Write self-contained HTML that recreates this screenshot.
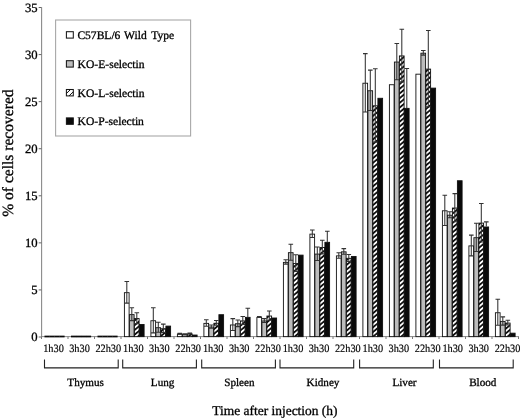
<!DOCTYPE html>
<html lang="en"><head><meta charset="utf-8"><title>Cells recovered chart</title>
<style>
html,body{margin:0;padding:0;background:#fff;}
body{width:520px;height:419px;position:relative;overflow:hidden;font-family:'Liberation Serif',serif;}
svg text{text-rendering:geometricPrecision;stroke:#000;stroke-width:0.3px;}
</style></head><body>
<svg width="520" height="419" viewBox="0 0 520 419" style="position:absolute;left:0;top:0;will-change:transform">
<defs><filter id="sf" x="0" y="0" width="520" height="419" filterUnits="userSpaceOnUse" color-interpolation-filters="sRGB"><feGaussianBlur stdDeviation="0.35"/></filter><pattern id="h" width="3.6" height="3.6" patternUnits="userSpaceOnUse" patternTransform="rotate(-40)"><rect width="3.6" height="3.6" fill="#fff"/><rect width="3.6" height="1.8" fill="#111"/></pattern></defs><g filter="url(#sf)">
<rect x="55.6" y="20" width="135" height="116" fill="#fff" stroke="#a8a8a8" stroke-width="1.1"/>
<path d="M41.60 7.2V337.00" stroke="#8a8a8a" stroke-width="1.1" fill="none"/>
<path d="M41.00 336.60H518.8" stroke="#8a8a8a" stroke-width="1" fill="none"/>
<rect x="124.40" y="292.68" width="4.70" height="43.97" fill="#fff" stroke="#111" stroke-width="0.9"/>
<rect x="129.40" y="314.62" width="4.70" height="22.03" fill="#bcbcbc" stroke="#111" stroke-width="0.9"/>
<rect x="134.40" y="318.57" width="4.70" height="18.08" fill="url(#h)" stroke="#111" stroke-width="0.9"/>
<rect x="139.40" y="324.50" width="4.70" height="12.15" fill="#0a0a0a" stroke="#111" stroke-width="0.9"/>
<path d="M126.80 281.46V303.11M124.50 281.46H129.10M124.50 303.11H129.10" stroke="#333" stroke-width="1.05" fill="none"/>
<path d="M131.80 307.82V320.62M129.50 307.82H134.10M129.50 320.62H134.10" stroke="#333" stroke-width="1.05" fill="none"/>
<path d="M136.80 312.71V323.63M134.50 312.71H139.10M134.50 323.63H139.10" stroke="#333" stroke-width="1.05" fill="none"/>
<rect x="150.90" y="320.74" width="4.70" height="15.91" fill="#fff" stroke="#111" stroke-width="0.9"/>
<rect x="155.90" y="327.70" width="4.70" height="8.95" fill="#bcbcbc" stroke="#111" stroke-width="0.9"/>
<rect x="160.90" y="328.74" width="4.70" height="7.91" fill="url(#h)" stroke="#111" stroke-width="0.9"/>
<rect x="165.90" y="326.10" width="4.70" height="10.55" fill="#0a0a0a" stroke="#111" stroke-width="0.9"/>
<path d="M153.30 307.82V332.86M151.00 307.82H155.60M151.00 332.86H155.60" stroke="#333" stroke-width="1.05" fill="none"/>
<path d="M158.30 322.31V332.29M156.00 322.31H160.60M156.00 332.29H160.60" stroke="#333" stroke-width="1.05" fill="none"/>
<path d="M163.30 324.10V332.58M161.00 324.10H165.60M161.00 332.58H165.60" stroke="#333" stroke-width="1.05" fill="none"/>
<rect x="177.40" y="334.11" width="4.70" height="2.54" fill="#fff" stroke="#111" stroke-width="0.9"/>
<rect x="182.40" y="334.58" width="4.70" height="2.07" fill="#bcbcbc" stroke="#111" stroke-width="0.9"/>
<rect x="187.40" y="333.92" width="4.70" height="2.73" fill="url(#h)" stroke="#111" stroke-width="0.9"/>
<rect x="192.40" y="335.05" width="4.70" height="1.60" fill="#0a0a0a" stroke="#111" stroke-width="0.9"/>
<path d="M179.80 333.23V334.18M177.50 333.23H182.10M177.50 334.18H182.10" stroke="#333" stroke-width="1.05" fill="none"/>
<path d="M184.80 333.71V334.65M182.50 333.71H187.10M182.50 334.65H187.10" stroke="#333" stroke-width="1.05" fill="none"/>
<path d="M189.80 333.05V333.99M187.50 333.05H192.10M187.50 333.99H192.10" stroke="#333" stroke-width="1.05" fill="none"/>
<rect x="203.90" y="323.37" width="4.70" height="13.28" fill="#fff" stroke="#111" stroke-width="0.9"/>
<rect x="208.90" y="327.04" width="4.70" height="9.61" fill="#bcbcbc" stroke="#111" stroke-width="0.9"/>
<rect x="213.90" y="323.28" width="4.70" height="13.37" fill="url(#h)" stroke="#111" stroke-width="0.9"/>
<rect x="218.90" y="314.71" width="4.70" height="21.94" fill="#0a0a0a" stroke="#111" stroke-width="0.9"/>
<path d="M206.30 319.68V326.27M204.00 319.68H208.60M204.00 326.27H208.60" stroke="#333" stroke-width="1.05" fill="none"/>
<path d="M211.30 324.95V328.34M209.00 324.95H213.60M209.00 328.34H213.60" stroke="#333" stroke-width="1.05" fill="none"/>
<path d="M216.30 320.53V325.23M214.00 320.53H218.60M214.00 325.23H218.60" stroke="#333" stroke-width="1.05" fill="none"/>
<rect x="230.40" y="324.97" width="4.70" height="11.68" fill="#fff" stroke="#111" stroke-width="0.9"/>
<rect x="235.40" y="323.75" width="4.70" height="12.90" fill="#bcbcbc" stroke="#111" stroke-width="0.9"/>
<rect x="240.40" y="320.93" width="4.70" height="15.72" fill="url(#h)" stroke="#111" stroke-width="0.9"/>
<rect x="245.40" y="317.35" width="4.70" height="19.30" fill="#0a0a0a" stroke="#111" stroke-width="0.9"/>
<path d="M232.80 318.64V330.50M230.50 318.64H235.10M230.50 330.50H235.10" stroke="#333" stroke-width="1.05" fill="none"/>
<path d="M237.80 320.05V326.64M235.50 320.05H240.10M235.50 326.64H240.10" stroke="#333" stroke-width="1.05" fill="none"/>
<path d="M242.80 316.57V324.48M240.50 316.57H245.10M240.50 324.48H245.10" stroke="#333" stroke-width="1.05" fill="none"/>
<path d="M247.80 308.29V316.95M245.50 308.29H250.10" stroke="#333" stroke-width="1.05" fill="none"/>
<rect x="256.90" y="317.35" width="4.70" height="19.30" fill="#fff" stroke="#111" stroke-width="0.9"/>
<rect x="261.90" y="320.93" width="4.70" height="15.72" fill="#bcbcbc" stroke="#111" stroke-width="0.9"/>
<rect x="266.90" y="316.03" width="4.70" height="20.62" fill="url(#h)" stroke="#111" stroke-width="0.9"/>
<rect x="271.90" y="318.01" width="4.70" height="18.64" fill="#0a0a0a" stroke="#111" stroke-width="0.9"/>
<path d="M259.30 316.48V317.42M257.00 316.48H261.60M257.00 317.42H261.60" stroke="#333" stroke-width="1.05" fill="none"/>
<path d="M264.30 318.64V322.41M262.00 318.64H266.60M262.00 322.41H266.60" stroke="#333" stroke-width="1.05" fill="none"/>
<path d="M269.30 310.92V320.34M267.00 310.92H271.60M267.00 320.34H271.60" stroke="#333" stroke-width="1.05" fill="none"/>
<rect x="283.40" y="262.37" width="4.70" height="74.28" fill="#fff" stroke="#111" stroke-width="0.9"/>
<rect x="288.40" y="252.67" width="4.70" height="83.98" fill="#bcbcbc" stroke="#111" stroke-width="0.9"/>
<rect x="293.40" y="263.50" width="4.70" height="73.15" fill="url(#h)" stroke="#111" stroke-width="0.9"/>
<rect x="298.40" y="255.12" width="4.70" height="81.53" fill="#0a0a0a" stroke="#111" stroke-width="0.9"/>
<path d="M285.80 259.81V264.14M283.50 259.81H288.10M283.50 264.14H288.10" stroke="#333" stroke-width="1.05" fill="none"/>
<path d="M290.80 244.27V260.28M288.50 244.27H293.10M288.50 260.28H293.10" stroke="#333" stroke-width="1.05" fill="none"/>
<path d="M295.80 254.82V271.38M293.50 254.82H298.10M293.50 271.38H298.10" stroke="#333" stroke-width="1.05" fill="none"/>
<rect x="309.90" y="234.13" width="4.70" height="102.52" fill="#fff" stroke="#111" stroke-width="0.9"/>
<rect x="314.90" y="254.09" width="4.70" height="82.56" fill="#bcbcbc" stroke="#111" stroke-width="0.9"/>
<rect x="319.90" y="247.50" width="4.70" height="89.15" fill="url(#h)" stroke="#111" stroke-width="0.9"/>
<rect x="324.90" y="242.32" width="4.70" height="94.33" fill="#0a0a0a" stroke="#111" stroke-width="0.9"/>
<path d="M312.30 229.96V237.49M310.00 229.96H314.60M310.00 237.49H314.60" stroke="#333" stroke-width="1.05" fill="none"/>
<path d="M317.30 246.91V260.46M315.00 246.91H319.60M315.00 260.46H319.60" stroke="#333" stroke-width="1.05" fill="none"/>
<path d="M322.30 240.32V253.87M320.00 240.32H324.60M320.00 253.87H324.60" stroke="#333" stroke-width="1.05" fill="none"/>
<path d="M327.30 231.28V241.92M325.00 231.28H329.60" stroke="#333" stroke-width="1.05" fill="none"/>
<rect x="336.40" y="255.87" width="4.70" height="80.78" fill="#fff" stroke="#111" stroke-width="0.9"/>
<rect x="341.40" y="251.83" width="4.70" height="84.82" fill="#bcbcbc" stroke="#111" stroke-width="0.9"/>
<rect x="346.40" y="258.32" width="4.70" height="78.33" fill="url(#h)" stroke="#111" stroke-width="0.9"/>
<rect x="351.40" y="256.44" width="4.70" height="80.21" fill="#0a0a0a" stroke="#111" stroke-width="0.9"/>
<path d="M338.80 252.65V258.30M336.50 252.65H341.10M336.50 258.30H341.10" stroke="#333" stroke-width="1.05" fill="none"/>
<path d="M343.80 248.60V254.25M341.50 248.60H346.10M341.50 254.25H346.10" stroke="#333" stroke-width="1.05" fill="none"/>
<path d="M348.80 254.44V261.41M346.50 254.44H351.10M346.50 261.41H351.10" stroke="#333" stroke-width="1.05" fill="none"/>
<rect x="362.90" y="83.22" width="4.70" height="253.43" fill="#fff" stroke="#111" stroke-width="0.9"/>
<rect x="367.90" y="90.75" width="4.70" height="245.90" fill="#bcbcbc" stroke="#111" stroke-width="0.9"/>
<rect x="372.90" y="105.82" width="4.70" height="230.83" fill="url(#h)" stroke="#111" stroke-width="0.9"/>
<rect x="377.90" y="98.28" width="4.70" height="238.37" fill="#0a0a0a" stroke="#111" stroke-width="0.9"/>
<path d="M365.30 53.64V112.01M363.00 53.64H367.60M363.00 112.01H367.60" stroke="#333" stroke-width="1.05" fill="none"/>
<path d="M370.30 70.11V110.59M368.00 70.11H372.60M368.00 110.59H372.60" stroke="#333" stroke-width="1.05" fill="none"/>
<path d="M375.30 68.70V142.13M373.00 68.70H377.60M373.00 142.13H377.60" stroke="#333" stroke-width="1.05" fill="none"/>
<rect x="389.40" y="84.73" width="4.70" height="251.92" fill="#fff" stroke="#111" stroke-width="0.9"/>
<rect x="394.40" y="62.04" width="4.70" height="274.61" fill="#bcbcbc" stroke="#111" stroke-width="0.9"/>
<rect x="399.40" y="55.92" width="4.70" height="280.73" fill="url(#h)" stroke="#111" stroke-width="0.9"/>
<rect x="404.40" y="108.36" width="4.70" height="228.29" fill="#0a0a0a" stroke="#111" stroke-width="0.9"/>
<path d="M396.80 43.47V79.81M394.50 43.47H399.10M394.50 79.81H399.10" stroke="#333" stroke-width="1.05" fill="none"/>
<path d="M401.80 29.16V81.88M399.50 29.16H404.10M399.50 81.88H404.10" stroke="#333" stroke-width="1.05" fill="none"/>
<path d="M406.80 68.42V107.96M404.50 68.42H409.10" stroke="#333" stroke-width="1.05" fill="none"/>
<rect x="415.90" y="74.18" width="4.70" height="262.47" fill="#fff" stroke="#111" stroke-width="0.9"/>
<rect x="420.90" y="53.19" width="4.70" height="283.46" fill="#bcbcbc" stroke="#111" stroke-width="0.9"/>
<rect x="425.90" y="69.10" width="4.70" height="267.55" fill="url(#h)" stroke="#111" stroke-width="0.9"/>
<rect x="430.90" y="88.12" width="4.70" height="248.53" fill="#0a0a0a" stroke="#111" stroke-width="0.9"/>
<path d="M423.30 50.44V55.14M421.00 50.44H425.60M421.00 55.14H425.60" stroke="#333" stroke-width="1.05" fill="none"/>
<path d="M428.30 30.57V106.83M426.00 30.57H430.60M426.00 106.83H430.60" stroke="#333" stroke-width="1.05" fill="none"/>
<rect x="442.40" y="210.78" width="4.70" height="125.87" fill="#fff" stroke="#111" stroke-width="0.9"/>
<rect x="447.40" y="215.21" width="4.70" height="121.44" fill="#bcbcbc" stroke="#111" stroke-width="0.9"/>
<rect x="452.40" y="208.05" width="4.70" height="128.60" fill="url(#h)" stroke="#111" stroke-width="0.9"/>
<rect x="457.40" y="180.75" width="4.70" height="155.90" fill="#0a0a0a" stroke="#111" stroke-width="0.9"/>
<path d="M444.80 195.32V225.44M442.50 195.32H447.10M442.50 225.44H447.10" stroke="#333" stroke-width="1.05" fill="none"/>
<path d="M449.80 211.79V217.82M447.50 211.79H452.10M447.50 217.82H452.10" stroke="#333" stroke-width="1.05" fill="none"/>
<path d="M454.80 193.62V221.68M452.50 193.62H457.10M452.50 221.68H457.10" stroke="#333" stroke-width="1.05" fill="none"/>
<rect x="468.90" y="245.90" width="4.70" height="90.75" fill="#fff" stroke="#111" stroke-width="0.9"/>
<rect x="473.90" y="237.71" width="4.70" height="98.94" fill="#bcbcbc" stroke="#111" stroke-width="0.9"/>
<rect x="478.90" y="223.11" width="4.70" height="113.54" fill="url(#h)" stroke="#111" stroke-width="0.9"/>
<rect x="483.90" y="226.97" width="4.70" height="109.68" fill="#0a0a0a" stroke="#111" stroke-width="0.9"/>
<path d="M471.30 235.14V255.85M469.00 235.14H473.60M469.00 255.85H473.60" stroke="#333" stroke-width="1.05" fill="none"/>
<path d="M476.30 223.18V251.43M474.00 223.18H478.60M474.00 251.43H478.60" stroke="#333" stroke-width="1.05" fill="none"/>
<path d="M481.30 203.42V242.01M479.00 203.42H483.60M479.00 242.01H483.60" stroke="#333" stroke-width="1.05" fill="none"/>
<path d="M486.30 221.87V226.57M484.00 221.87H488.60" stroke="#333" stroke-width="1.05" fill="none"/>
<rect x="495.40" y="312.74" width="4.70" height="23.91" fill="#fff" stroke="#111" stroke-width="0.9"/>
<rect x="500.40" y="321.40" width="4.70" height="15.25" fill="#bcbcbc" stroke="#111" stroke-width="0.9"/>
<rect x="505.40" y="323.09" width="4.70" height="13.56" fill="url(#h)" stroke="#111" stroke-width="0.9"/>
<rect x="510.40" y="333.16" width="4.70" height="3.49" fill="#0a0a0a" stroke="#111" stroke-width="0.9"/>
<path d="M497.80 299.34V325.33M495.50 299.34H500.10M495.50 325.33H500.10" stroke="#333" stroke-width="1.05" fill="none"/>
<path d="M502.80 316.85V325.14M500.50 316.85H505.10M500.50 325.14H505.10" stroke="#333" stroke-width="1.05" fill="none"/>
<path d="M507.80 320.34V325.04M505.50 320.34H510.10M505.50 325.04H510.10" stroke="#333" stroke-width="1.05" fill="none"/>
<path d="M38.70 337.00H41.50" stroke="#666" stroke-width="1" fill="none"/>
<path d="M38.70 289.93H41.50" stroke="#666" stroke-width="1" fill="none"/>
<path d="M38.70 242.86H41.50" stroke="#666" stroke-width="1" fill="none"/>
<path d="M38.70 195.79H41.50" stroke="#666" stroke-width="1" fill="none"/>
<path d="M38.70 148.72H41.50" stroke="#666" stroke-width="1" fill="none"/>
<path d="M38.70 101.65H41.50" stroke="#666" stroke-width="1" fill="none"/>
<path d="M38.70 54.58H41.50" stroke="#666" stroke-width="1" fill="none"/>
<path d="M38.70 7.51H41.50" stroke="#666" stroke-width="1" fill="none"/>
<path d="M41.50 336.50V339.00" stroke="#777" stroke-width="1" fill="none"/>
<path d="M68.00 336.50V339.00" stroke="#777" stroke-width="1" fill="none"/>
<path d="M94.50 336.50V339.00" stroke="#777" stroke-width="1" fill="none"/>
<path d="M121.00 336.50V339.00" stroke="#777" stroke-width="1" fill="none"/>
<path d="M147.50 336.50V339.00" stroke="#777" stroke-width="1" fill="none"/>
<path d="M174.00 336.50V339.00" stroke="#777" stroke-width="1" fill="none"/>
<path d="M200.50 336.50V339.00" stroke="#777" stroke-width="1" fill="none"/>
<path d="M227.00 336.50V339.00" stroke="#777" stroke-width="1" fill="none"/>
<path d="M253.50 336.50V339.00" stroke="#777" stroke-width="1" fill="none"/>
<path d="M280.00 336.50V339.00" stroke="#777" stroke-width="1" fill="none"/>
<path d="M306.50 336.50V339.00" stroke="#777" stroke-width="1" fill="none"/>
<path d="M333.00 336.50V339.00" stroke="#777" stroke-width="1" fill="none"/>
<path d="M359.50 336.50V339.00" stroke="#777" stroke-width="1" fill="none"/>
<path d="M386.00 336.50V339.00" stroke="#777" stroke-width="1" fill="none"/>
<path d="M412.50 336.50V339.00" stroke="#777" stroke-width="1" fill="none"/>
<path d="M439.00 336.50V339.00" stroke="#777" stroke-width="1" fill="none"/>
<path d="M465.50 336.50V339.00" stroke="#777" stroke-width="1" fill="none"/>
<path d="M492.00 336.50V339.00" stroke="#777" stroke-width="1" fill="none"/>
<path d="M518.50 336.50V339.00" stroke="#777" stroke-width="1" fill="none"/>
<rect x="44.50" y="335.65" width="5.10" height="1.7" fill="#0a0a0a"/>
<rect x="49.50" y="335.65" width="5.10" height="1.7" fill="#0a0a0a"/>
<rect x="54.50" y="335.65" width="5.10" height="1.7" fill="#0a0a0a"/>
<rect x="59.50" y="335.65" width="5.10" height="1.7" fill="#0a0a0a"/>
<rect x="71.00" y="335.65" width="5.10" height="1.7" fill="#0a0a0a"/>
<rect x="76.00" y="335.65" width="5.10" height="1.7" fill="#0a0a0a"/>
<rect x="81.00" y="335.65" width="5.10" height="1.7" fill="#0a0a0a"/>
<rect x="86.00" y="335.65" width="5.10" height="1.7" fill="#0a0a0a"/>
<rect x="97.50" y="335.65" width="5.10" height="1.7" fill="#0a0a0a"/>
<rect x="102.50" y="335.65" width="5.10" height="1.7" fill="#0a0a0a"/>
<rect x="107.50" y="335.65" width="5.10" height="1.7" fill="#0a0a0a"/>
<rect x="112.50" y="335.65" width="5.10" height="1.7" fill="#0a0a0a"/>
<path d="M44.50 359.6V367.9H118.20V359.6" stroke="#222" stroke-width="1.1" fill="none"/>
<path d="M122.70 359.6V367.9H196.40V359.6" stroke="#222" stroke-width="1.1" fill="none"/>
<path d="M201.70 359.6V367.9H275.40V359.6" stroke="#222" stroke-width="1.1" fill="none"/>
<path d="M280.00 359.6V367.9H353.70V359.6" stroke="#222" stroke-width="1.1" fill="none"/>
<path d="M359.60 359.6V367.9H433.30V359.6" stroke="#222" stroke-width="1.1" fill="none"/>
<path d="M439.50 359.6V367.9H513.20V359.6" stroke="#222" stroke-width="1.1" fill="none"/>
<rect x="66.4" y="31.70" width="6.9" height="6.4" fill="#fff" stroke="#151515" stroke-width="1.05"/>
<rect x="66.4" y="60.70" width="6.9" height="6.4" fill="#bcbcbc" stroke="#151515" stroke-width="1.05"/>
<rect x="66.4" y="89.50" width="6.9" height="6.4" fill="#fff" stroke="#151515" stroke-width="1.05"/>
<path d="M66.40 93.47L70.54 89.50M69.02 95.90L73.30 91.80" stroke="#111" stroke-width="1" fill="none"/>
<rect x="66.4" y="117.90" width="6.9" height="6.4" fill="#0a0a0a" stroke="#151515" stroke-width="1.05"/>
<text x="37.6" y="341.35" font-family="'Liberation Serif',serif" font-size="12.7" text-anchor="end" fill="#000" >0</text>
<text x="37.6" y="294.28" font-family="'Liberation Serif',serif" font-size="12.7" text-anchor="end" fill="#000" >5</text>
<text x="37.6" y="247.21" font-family="'Liberation Serif',serif" font-size="12.7" text-anchor="end" fill="#000" >10</text>
<text x="37.6" y="200.14" font-family="'Liberation Serif',serif" font-size="12.7" text-anchor="end" fill="#000" >15</text>
<text x="37.6" y="153.07" font-family="'Liberation Serif',serif" font-size="12.7" text-anchor="end" fill="#000" >20</text>
<text x="37.6" y="106.00" font-family="'Liberation Serif',serif" font-size="12.7" text-anchor="end" fill="#000" >25</text>
<text x="37.6" y="58.93" font-family="'Liberation Serif',serif" font-size="12.7" text-anchor="end" fill="#000" >30</text>
<text x="37.6" y="11.86" font-family="'Liberation Serif',serif" font-size="12.7" text-anchor="end" fill="#000" >35</text>
<text transform="translate(53.50 352.4) scale(0.92 1)" font-family="'Liberation Serif',serif" font-size="11.2" text-anchor="middle" fill="#000" style="stroke-width:0.18px">1h30</text>
<text transform="translate(79.50 352.4) scale(0.92 1)" font-family="'Liberation Serif',serif" font-size="11.2" text-anchor="middle" fill="#000" style="stroke-width:0.18px">3h30</text>
<text transform="translate(108.30 352.4) scale(0.92 1)" font-family="'Liberation Serif',serif" font-size="11.2" text-anchor="middle" fill="#000" style="stroke-width:0.18px">22h30</text>
<text transform="translate(133.34 352.4) scale(0.92 1)" font-family="'Liberation Serif',serif" font-size="11.2" text-anchor="middle" fill="#000" style="stroke-width:0.18px">1h30</text>
<text transform="translate(159.34 352.4) scale(0.92 1)" font-family="'Liberation Serif',serif" font-size="11.2" text-anchor="middle" fill="#000" style="stroke-width:0.18px">3h30</text>
<text transform="translate(188.14 352.4) scale(0.92 1)" font-family="'Liberation Serif',serif" font-size="11.2" text-anchor="middle" fill="#000" style="stroke-width:0.18px">22h30</text>
<text transform="translate(213.18 352.4) scale(0.92 1)" font-family="'Liberation Serif',serif" font-size="11.2" text-anchor="middle" fill="#000" style="stroke-width:0.18px">1h30</text>
<text transform="translate(239.18 352.4) scale(0.92 1)" font-family="'Liberation Serif',serif" font-size="11.2" text-anchor="middle" fill="#000" style="stroke-width:0.18px">3h30</text>
<text transform="translate(267.98 352.4) scale(0.92 1)" font-family="'Liberation Serif',serif" font-size="11.2" text-anchor="middle" fill="#000" style="stroke-width:0.18px">22h30</text>
<text transform="translate(293.02 352.4) scale(0.92 1)" font-family="'Liberation Serif',serif" font-size="11.2" text-anchor="middle" fill="#000" style="stroke-width:0.18px">1h30</text>
<text transform="translate(319.02 352.4) scale(0.92 1)" font-family="'Liberation Serif',serif" font-size="11.2" text-anchor="middle" fill="#000" style="stroke-width:0.18px">3h30</text>
<text transform="translate(347.82 352.4) scale(0.92 1)" font-family="'Liberation Serif',serif" font-size="11.2" text-anchor="middle" fill="#000" style="stroke-width:0.18px">22h30</text>
<text transform="translate(372.86 352.4) scale(0.92 1)" font-family="'Liberation Serif',serif" font-size="11.2" text-anchor="middle" fill="#000" style="stroke-width:0.18px">1h30</text>
<text transform="translate(398.86 352.4) scale(0.92 1)" font-family="'Liberation Serif',serif" font-size="11.2" text-anchor="middle" fill="#000" style="stroke-width:0.18px">3h30</text>
<text transform="translate(427.66 352.4) scale(0.92 1)" font-family="'Liberation Serif',serif" font-size="11.2" text-anchor="middle" fill="#000" style="stroke-width:0.18px">22h30</text>
<text transform="translate(452.70 352.4) scale(0.92 1)" font-family="'Liberation Serif',serif" font-size="11.2" text-anchor="middle" fill="#000" style="stroke-width:0.18px">1h30</text>
<text transform="translate(478.70 352.4) scale(0.92 1)" font-family="'Liberation Serif',serif" font-size="11.2" text-anchor="middle" fill="#000" style="stroke-width:0.18px">3h30</text>
<text transform="translate(507.50 352.4) scale(0.92 1)" font-family="'Liberation Serif',serif" font-size="11.2" text-anchor="middle" fill="#000" style="stroke-width:0.18px">22h30</text>
<text x="85.6" y="385.5" font-family="'Liberation Serif',serif" font-size="11.15" text-anchor="middle" fill="#000" >Thymus</text>
<text x="162.6" y="385.5" font-family="'Liberation Serif',serif" font-size="11.15" text-anchor="middle" fill="#000" >Lung</text>
<text x="239.4" y="385.5" font-family="'Liberation Serif',serif" font-size="11.15" text-anchor="middle" fill="#000" >Spleen</text>
<text x="323.0" y="385.5" font-family="'Liberation Serif',serif" font-size="11.15" text-anchor="middle" fill="#000" >Kidney</text>
<text x="404.5" y="385.5" font-family="'Liberation Serif',serif" font-size="11.15" text-anchor="middle" fill="#000" >Liver</text>
<text x="482.8" y="385.5" font-family="'Liberation Serif',serif" font-size="11.15" text-anchor="middle" fill="#000" >Blood</text>
<text y="38.70" font-family="'Liberation Serif',serif" font-size="11.55" fill="#000"><tspan x="77.4">C57BL/6</tspan> <tspan x="124.1">Wild</tspan> <tspan x="151.3">Type</tspan></text>
<text x="77.6" y="67.80" font-family="'Liberation Serif',serif" font-size="11.6" text-anchor="start" fill="#000" >KO-E-selectin</text>
<text x="77.6" y="96.60" font-family="'Liberation Serif',serif" font-size="11.6" text-anchor="start" fill="#000" >KO-L-selectin</text>
<text x="77.6" y="125.00" font-family="'Liberation Serif',serif" font-size="11.6" text-anchor="start" fill="#000" >KO-P-selectin</text>
<text x="274.9" y="414.8" font-family="'Liberation Serif',serif" font-size="13.45" text-anchor="middle" fill="#000" >Time after injection (h)</text>
<text transform="translate(13.1 153.1) rotate(-90)" font-family="'Liberation Serif',serif" font-size="15.55" text-anchor="middle" fill="#000">% of cells recovered</text>
</g></svg>
</body></html>
